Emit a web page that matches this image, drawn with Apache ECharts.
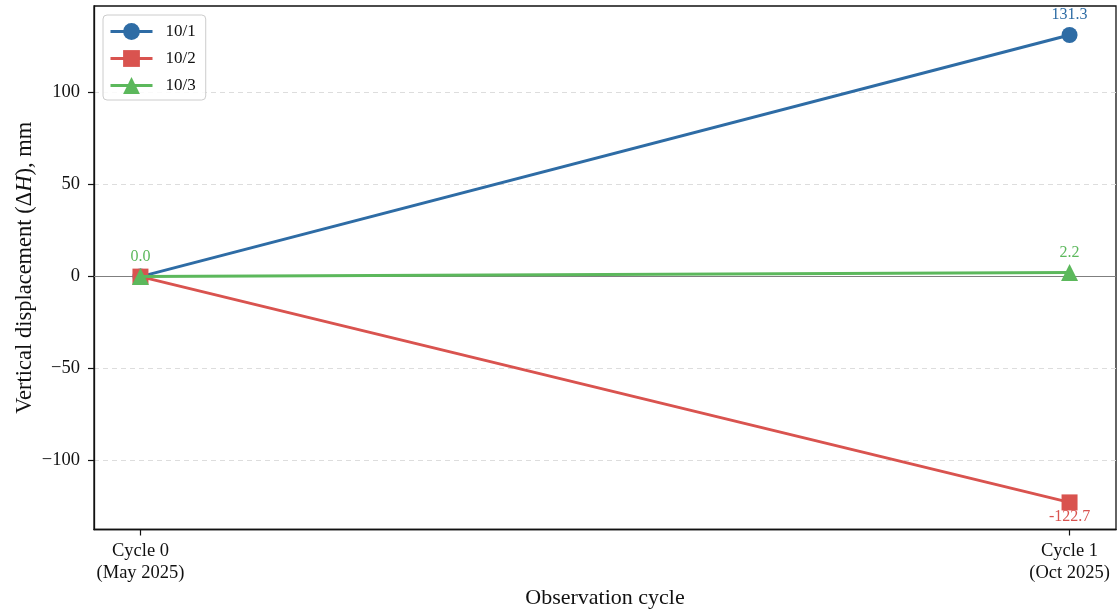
<!DOCTYPE html>
<html>
<head>
<meta charset="utf-8">
<title>Vertical displacement by observation cycle</title>
<script src="https://cdn.jsdelivr.net/npm/echarts@6/dist/echarts.min.js"></script>
<style>
  html, body { margin: 0; padding: 0; background: #fff; }
  #chart { width: 1120px; height: 610px; }
</style>
</head>
<body>
<div id="chart"></div>
<script>
// Observation cycles (x positions and their two-line tick labels)
const cyclePositions = [0, 1];
const cycleLabels = ['Cycle 0\n(May 2025)', 'Cycle 1\n(Oct 2025)'];

// Vertical displacement ΔH (mm) per benchmark
const pointNames = ['10/1', '10/2', '10/3'];
const disp_10_1 = [0.0, 131.3];
const disp_10_2 = [0.0, -122.7];
const disp_10_3 = [0.0, 2.2];

// Y axis tick values
const yTicks = [-100, -50, 0, 50, 100];

const FONT = "'Liberation Serif', 'DejaVu Serif', serif";
const colors = ['#2e6ca5', '#d9534f', '#5cb85c'];
const symbols = ['circle', 'rect', 'triangle'];
const seriesValues = [disp_10_1, disp_10_2, disp_10_3];

const allVals = seriesValues.flat();
const yMin = Math.min(...allVals) * 1.12;
const yMax = Math.max(...allVals) * 1.12;

function fmtMinus(v) { return String(v).replace('-', '\u2212'); }

const series = seriesValues.map((vals, s) => ({
  name: pointNames[s],
  type: 'line',
  z: 3 + s,
  symbol: symbols[s],
  symbolSize: s === 2 ? 17 : 16,
  lineStyle: { color: colors[s], width: 3 },
  itemStyle: { color: colors[s] },
  data: vals.map((v, i) => {
    const showLabel = i === vals.length - 1 || (i === 0 && s === seriesValues.length - 1);
    const below = v < 0;
    return {
      value: [cyclePositions[i], v],
      label: {
        show: showLabel,
        position: 'inside',
        offset: [0, below ? 14 : -20],
        formatter: () => v.toFixed(1),
        color: colors[s],
        fontFamily: FONT,
        fontSize: 16
      }
    };
  }),
  markLine: s === 0 ? {
    silent: true,
    symbol: 'none',
    label: { show: false },
    lineStyle: { color: '#7f7f7f', width: 1.2, type: 'solid' },
    data: [{ yAxis: 0 }],
    z: 2
  } : undefined
}));

const chart = echarts.init(document.getElementById('chart'), null, { renderer: 'canvas' });
chart.setOption({
  animation: false,
  backgroundColor: '#fff',
  grid: {
    left: 94, right: 4, top: 6, bottom: 80.5,
    outerBoundsMode: 'none',
    containLabel: false,
    show: true, borderColor: '#111', borderWidth: 1.3, backgroundColor: 'transparent'
  },
  legend: {
    left: 103, top: 15,
    orient: 'vertical',
    itemWidth: 42, itemHeight: 21, itemGap: 10,
    padding: [8, 10, 6, 6],
    borderColor: '#cccccc', borderWidth: 1, borderRadius: 4,
    backgroundColor: 'rgba(255,255,255,0.85)',
    lineStyle: { width: 3 },
    textStyle: { fontFamily: FONT, fontSize: 17, color: '#111', padding: [0, 0, 0, 8] },
    data: pointNames
  },
  xAxis: {
    type: 'value',
    min: -0.05, max: 1.05,
    name: 'Observation cycle',
    nameLocation: 'middle',
    nameMoveOverlap: false,
    nameGap: 58,
    nameTextStyle: { fontFamily: FONT, fontSize: 22, color: '#111' },
    axisLine: { show: true, onZero: false, lineStyle: { color: '#111', width: 1.3 } },
    axisTick: { show: true, customValues: cyclePositions, length: 6, lineStyle: { color: '#111', width: 1.2 } },
    axisLabel: {
      customValues: cyclePositions,
      formatter: (v) => cycleLabels[cyclePositions.indexOf(Math.round(v))] || '',
      fontFamily: FONT, fontSize: 18.5, color: '#111', lineHeight: 22, margin: 11
    },
    splitLine: { show: false }
  },
  yAxis: {
    type: 'value',
    min: yMin, max: yMax,
    name: '{n|Vertical displacement (\u0394}{i|H}{n|), mm}',
    nameLocation: 'middle',
    nameMoveOverlap: false,
    nameGap: 57,
    nameTextStyle: {
      rich: {
        n: { fontFamily: FONT, fontSize: 22.5, color: '#111' },
        i: { fontFamily: FONT, fontSize: 22.5, color: '#111', fontStyle: 'italic' }
      }
    },
    axisLine: { show: true, onZero: false, lineStyle: { color: '#111', width: 1.3 } },
    axisTick: { show: true, customValues: yTicks, length: 6, lineStyle: { color: '#111', width: 1.2 } },
    axisLabel: {
      customValues: yTicks,
      formatter: (v) => fmtMinus(Math.round(v)),
      fontFamily: FONT, fontSize: 18.5, color: '#111', margin: 14
    },
    splitLine: { show: true, lineStyle: { color: '#dddddd', width: 1, type: [5, 4] } }
  },
  series: series
});
</script>
</body>
</html>
